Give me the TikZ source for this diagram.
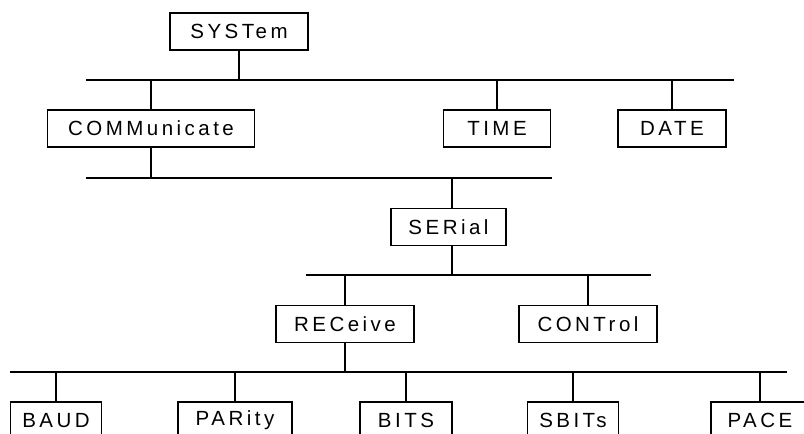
\documentclass[tikz,border=0pt]{standalone}
\usepackage{fontspec}
\newfontfamily\boxfont[LetterSpace=17]{Liberation Sans}
\begin{document}
\begin{tikzpicture}[x=1pt, y=-1pt, line width=1.5pt]
      \useasboundingbox (0,0) rectangle (804,434);
      \tikzstyle{every node}=[draw, rectangle, minimum height=37pt, inner sep=0pt,
        font=\boxfont\fontsize{20.5}{24}\selectfont]

      % levels above the bottom row
      \path (239, 31.5) node[minimum width=138pt] (sys) {SYSTem};
      \path (151, 128.5) node[minimum width=207pt] (comm) {COMMunicate};
      \path (497, 128.5) node[minimum width=107pt] (time) {TIME};
      \path (672, 128.5) node[minimum width=108pt] (date) {DATE};
      \path (448.5, 227) node[minimum width=115pt] (ser) {SERial};
      \path (345, 324) node[minimum width=138pt] (rec) {RECeive};
      \path (588, 324) node[minimum width=138pt] (cont) {CONTrol};

      % bottom row
      \foreach \n/\t/\x/\w in {baud/BAUD/56/91, par/PARity/235/114,
        bits/BITS/406/92, sbits/SBITs/573/91, pace/PACE/760/98}
      {
        \path (\x, 420.5) node[minimum width=\w pt] (\n) {\t};
      }

      % buses
      \coordinate (b1w) at (86, 80);    \coordinate (b1e) at (734, 80);
      \coordinate (b2w) at (86, 178);   \coordinate (b2e) at (552, 178);
      \coordinate (b3w) at (306, 275);  \coordinate (b3e) at (651, 275);
      \coordinate (b4w) at (10, 372);   \coordinate (b4e) at (787, 372);

      \draw [line width=1.2pt]
        (b1w) -- (b1e)
        (b2w) -- (b2e)
        (b3w) -- (b3e)
        (b4w) -- (b4e);

      \draw
        (sys.south) -- (sys.south |- b1w)
        (comm.south) -- (comm.south |- b2w)
        ([xshift=3.5pt]ser.south) -- ([xshift=3.5pt]ser.south |- b3w)
        (rec.south) -- (rec.south |- b4w);

      \foreach \c in {comm, time, date}
        \draw (\c.north) -- (\c.north |- b1w);
      \draw ([xshift=3.5pt]ser.north) -- ([xshift=3.5pt]ser.north |- b2w);
      \foreach \c in {rec, cont}
        \draw (\c.north) -- (\c.north |- b3w);
      \foreach \c in {baud, par, bits, sbits, pace}
        \draw (\c.north) -- (\c.north |- b4w);
    \end{tikzpicture}
\end{document}
